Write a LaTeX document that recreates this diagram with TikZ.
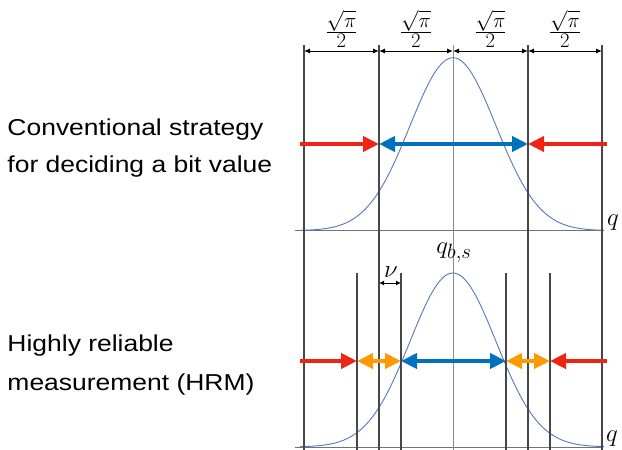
\documentclass[tikz,border=0pt]{standalone}
\usepackage{amsmath}
\usepackage[no-math]{fontspec}
\setmainfont{Liberation Sans}[FakeStretch=1.15]
\usetikzlibrary{arrows.meta}
\definecolor{arrred}{RGB}{236,38,22}
\definecolor{arrblue}{RGB}{0,112,192}
\definecolor{arrorange}{RGB}{255,153,0}
\definecolor{curveblue}{RGB}{84,120,190}
\newcommand{\halfsqrtpi}{$\frac{\displaystyle\sqrt{\pi}}{\displaystyle 2}$}
\begin{document}
\begin{tikzpicture}[x=1pt,y=-1pt,
  vline/.style={draw=black!72, line width=1.1pt},
  cline/.style={draw=black!45, line width=1pt},
  axisline/.style={draw=black!55, line width=1pt},
  gauss/.style={draw=curveblue, line width=0.9pt},
  dimarrow/.style={draw=black, line width=1pt, {Latex[length=6pt,width=5pt]}-{Latex[length=6pt,width=5pt]}},
  bigone/.style={line width=4pt, -{Triangle[length=16pt,width=15pt]}},
  bigtwo/.style={line width=4pt, {Triangle[length=16pt,width=15pt]}-{Triangle[length=16pt,width=15pt]}},
  lbl/.style={font=\fontsize{23}{28}\selectfont, anchor=base west, inner sep=0pt},
  mth/.style={font=\fontsize{20.74}{24}\selectfont, inner sep=0pt},
  mthbig/.style={font=\fontsize{24.88}{28}\selectfont, inner sep=0pt}
]
\useasboundingbox (0,0) rectangle (622,450);

% left texts
\node[lbl] (c1) at (7.3,135) {Conventional strategy};
\node[lbl] (c2) at (7.3,172.7) {for deciding a bit value};
\node[lbl] (h1) at (7.3,351.7) {Highly reliable};
\node[lbl] (h2) at (7.3,390) {measurement (HRM)};

% vertical line coordinates
\coordinate (t0) at (304,45);  \coordinate (b0) at (304,450);
\coordinate (t1) at (379,45);  \coordinate (b1) at (379,450);
\coordinate (t2) at (453,45);  \coordinate (b2) at (453,450);
\coordinate (t3) at (528,45);  \coordinate (b3) at (528,450);
\coordinate (t4) at (602,45);  \coordinate (b4) at (602,450);
\coordinate (ta) at (357,273); \coordinate (ba) at (357,450);
\coordinate (tb) at (401,273); \coordinate (bb) at (401,450);
\coordinate (tc) at (506,273); \coordinate (bc) at (506,450);
\coordinate (td) at (550,273); \coordinate (bd) at (550,450);

% axes
\coordinate (axl1) at (295,230.7); \coordinate (axr1) at (602,230.7);
\coordinate (axl2) at (295,447);   \coordinate (axr2) at (602,447);
\draw[axisline] (axl1) -- (axr1);
\draw[axisline] (axl2) -- (axr2);

% gaussians
\draw[gauss] plot[smooth, samples=120, domain=-3.56:3.51] ({453+43*\x},{230.7-173*exp(-0.5*\x*\x)});
\draw[gauss] plot[smooth, samples=120, domain=-3.56:3.51] ({453+43*\x},{447-174*exp(-0.5*\x*\x)});

% vertical lines
\draw[vline] (t0) -- (b0);
\draw[vline] (t1) -- (b1);
\draw[cline] (t2) -- (b2);
\draw[vline] (t3) -- (b3);
\draw[vline] (t4) -- (b4);
\draw[vline] (ta) -- (ba);
\draw[vline] (tb) -- (bb);
\draw[vline] (tc) -- (bc);
\draw[vline] (td) -- (bd);

% dimension arrows at top
\coordinate (d0) at (304,51); \coordinate (d1) at (379,51);
\coordinate (d2) at (453,51); \coordinate (d3) at (528,51);
\coordinate (d4) at (602,51);
\draw[dimarrow] (d0) -- (d1);
\draw[dimarrow] (d1) -- (d2);
\draw[dimarrow] (d2) -- (d3);
\draw[dimarrow] (d3) -- (d4);
\node[mth, anchor=south] (f1) at (341.5,47.5) {\halfsqrtpi};
\node[mth, anchor=south] (f2) at (416,47.5) {\halfsqrtpi};
\node[mth, anchor=south] (f3) at (490.5,47.5) {\halfsqrtpi};
\node[mth, anchor=south] (f4) at (565,47.5) {\halfsqrtpi};

% q labels
\node[mthbig, anchor=base west] (q1) at (607,225) {$q$};
\node[mthbig, anchor=base west] (q2) at (606,441) {$q$};
\node[mthbig, anchor=base] (qbs) at (454,253) {$q_{b,s}$};

% nu
\coordinate (n0) at (379,283); \coordinate (n1) at (401,283);
\draw[draw=black, line width=1pt, {Latex[length=5pt,width=5pt]}-{Latex[length=5pt,width=5pt]}] (n0) -- (n1);
\node[mthbig, anchor=base] (nu) at (391,277) {$\nu$};

% top arrows
\coordinate (a0) at (300,144); \coordinate (a1) at (379,144);
\coordinate (a2) at (528,144); \coordinate (a3) at (607,144);
\draw[bigone, arrred] (a0) -- (a1);
\draw[bigtwo, arrblue] (a1) -- (a2);
\draw[bigone, arrred] (a3) -- (a2);

% bottom arrows
\coordinate (e0) at (300,361); \coordinate (e1) at (357,361);
\coordinate (e2) at (401,361); \coordinate (e3) at (506,361);
\coordinate (e4) at (550,361); \coordinate (e5) at (607,361);
\draw[bigone, arrred] (e0) -- (e1);
\draw[bigtwo, arrorange] (e1) -- (e2);
\draw[bigtwo, arrblue] (e2) -- (e3);
\draw[bigtwo, arrorange] (e3) -- (e4);
\draw[bigone, arrred] (e5) -- (e4);
\end{tikzpicture}
\end{document}
